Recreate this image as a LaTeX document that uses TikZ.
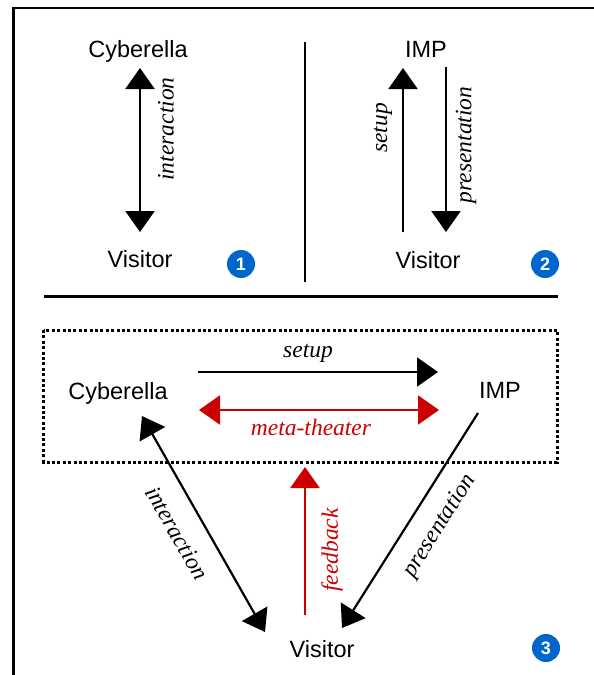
\documentclass[tikz,border=0pt]{standalone}
\usepackage{fontspec}
\setmainfont{Liberation Serif}
\setsansfont{Liberation Sans}
\usetikzlibrary{arrows.meta}
\definecolor{feedred}{RGB}{204,0,0}
\definecolor{badgeblue}{RGB}{0,102,204}

\begin{document}
\begin{tikzpicture}[x=1pt,y=-1pt,
  actor/.style={font=\sffamily\fontsize{23.5}{28}\selectfont, inner sep=0pt, anchor=base},
  lab/.style={font=\itshape\fontsize{23.5}{27}\selectfont, inner sep=0pt},
  flow/.style={line width=2.2pt, -{Triangle[width=29pt,length=21pt]}},
  twoway/.style={line width=2.2pt, {Triangle[width=29pt,length=21pt]}-{Triangle[width=29pt,length=21pt]}},
  badge/.style={circle, fill=badgeblue, text=white, minimum size=28pt, inner sep=0pt,
    font=\sffamily\bfseries\fontsize{18}{18}\selectfont},
  rule/.style={line width=3pt},
]
\useasboundingbox (0,0) rectangle (594,675);
\clip (0,0) rectangle (594,675);

% outer frame (open to the right and bottom)
\draw[line width=2.8pt] (13.5,700) -- (13.5,8) -- (620,8);

% separators between the panels
\draw[line width=2pt] (305,42) -- (305,282);
\draw[rule] (44,296) -- (558,296);

% ---------- panel 1 ----------
\node[actor] (cyb1) at (138,57) {Cyberella};
\node[actor] (vis1) at (140,267) {Visitor};
\coordinate (p1a) at (140,68);
\coordinate (p1b) at (140,232);
\draw[twoway] (p1a) -- (p1b);
\node[lab, rotate=90] (int1) at (166,129) {interaction};
\node[badge] (b1) at (241,264) {1};

% ---------- panel 2 ----------
\node[actor] (imp2) at (426,57) {IMP};
\node[actor] (vis2) at (428,268) {Visitor};
\coordinate (p2su) at (403,232);
\coordinate (p2st) at (403,68);
\coordinate (p2pu) at (446,67);
\coordinate (p2pd) at (446,232);
\draw[flow] (p2su) -- (p2st);
\draw[flow] (p2pu) -- (p2pd);
\node[lab, rotate=90] (set2) at (383,128) {setup};
\node[lab, rotate=90] (pre2) at (466,145) {presentation};
\node[badge] (b2) at (545,264) {2};

% ---------- panel 3 ----------
\draw[line width=3pt, dash pattern=on 3pt off 2.4pt] (43.5,330) rectangle (557,462);

\node[actor] (cyb3) at (118,399) {Cyberella};
\node[actor] (imp3) at (500,398) {IMP};
\node[actor] (vis3) at (322,657) {Visitor};

\coordinate (su1) at (198,372);
\coordinate (su2) at (438,372);
\draw[flow] (su1) -- (su2);
\node[lab] (set3) at (308,353) {setup};

\coordinate (mt1) at (199,410);
\coordinate (mt2) at (439,410);
\draw[twoway, feedred] (mt1) -- (mt2);
\node[lab, text=feedred] (meta) at (311,427) {meta-theater};

\coordinate (in1) at (142,416);
\coordinate (in2) at (265,632);
\draw[twoway] (in1) -- (in2);
\node[lab, rotate=-60.3] (int3) at (177,533) {interaction};

\coordinate (fb1) at (305,615);
\coordinate (fb2) at (305,467);
\draw[flow, feedred] (fb1) -- (fb2);
\node[lab, rotate=90, text=feedred] (fb) at (332,550) {feedback};

\coordinate (pr1) at (478,413);
\coordinate (pr2) at (342,628);
\draw[flow] (pr1) -- (pr2);
\node[lab, rotate=57.7] (pre3) at (440,526) {presentation};

\node[badge] (b3) at (546,648) {3};
\end{tikzpicture}
\end{document}
